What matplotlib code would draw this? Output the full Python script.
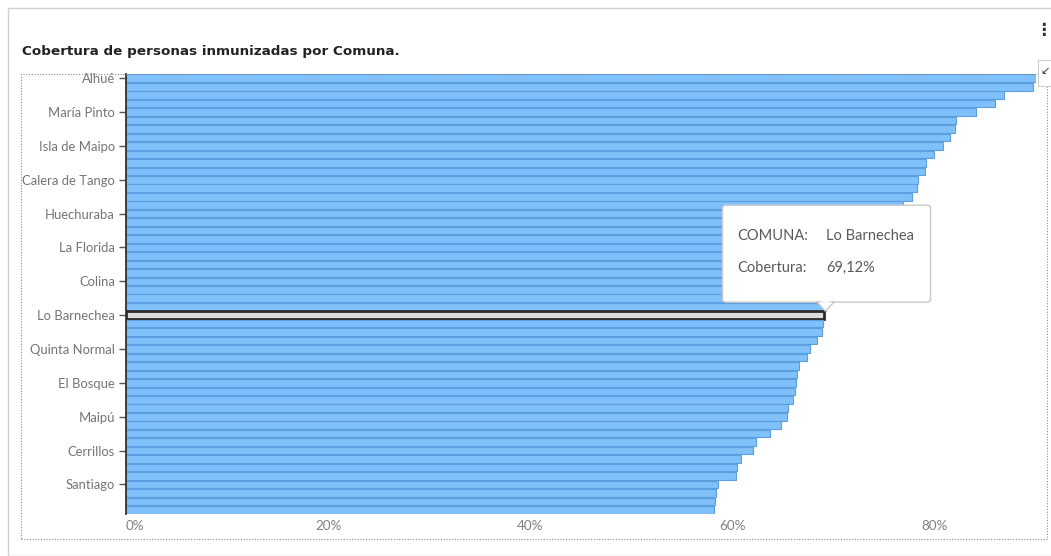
import matplotlib
matplotlib.use("Agg")
import matplotlib.pyplot as plt
import numpy as np
from matplotlib.patches import Rectangle, FancyBboxPatch, Polygon

# Comunas ordered by coverage (top = highest)
comunas = [
    "Alhué", "San Pedro", "Curacaví", "Tiltil",
    "María Pinto", "Pirque", "San José de Maipo", "Paine",
    "Isla de Maipo", "El Monte", "Melipilla", "Buin",
    "Calera de Tango", "Talagante", "Padre Hurtado", "Peñaflor",
    "Huechuraba", "Vitacura", "Lampa", "La Reina",
    "La Florida", "Las Condes", "Macul", "Providencia",
    "Colina", "Ñuñoa", "Puente Alto", "San Miguel",
    "Lo Barnechea", "Peñalolén", "San Joaquín", "Quilicura",
    "Quinta Normal", "La Cisterna", "San Bernardo", "Pudahuel",
    "El Bosque", "Lo Prado", "Conchalí", "Renca",
    "Maipú", "Recoleta", "San Ramón", "La Granja",
    "Cerrillos", "Cerro Navia", "Pedro Aguirre Cerda", "La Pintana",
    "Santiago", "Lo Espejo", "Estación Central", "Independencia",
]
cobertura = [
    91.8, 89.8, 86.9, 86.0,
    84.1, 82.1, 82.0, 81.5,
    80.8, 80.0, 79.2, 79.1,
    78.4, 78.3, 77.8, 76.9,
    76.4, 75.9, 75.3, 74.6,
    73.8, 73.1, 72.4, 71.6,
    70.8, 70.1, 69.6, 69.3,
    69.12, 69.0, 68.9, 68.4,
    67.7, 67.4, 66.6, 66.4,
    66.3, 66.2, 66.0, 65.5,
    65.4, 64.8, 63.7, 62.3,
    62.0, 60.9, 60.5, 60.4,
    58.6, 58.4, 58.3, 58.2,
]
selected = "Lo Barnechea"
x_ticks = [0, 20, 40, 60, 80]

W, H = 1051, 556
fig = plt.figure(figsize=(W / 100, H / 100), dpi=100)
ax = fig.add_axes([126 / W, 1 - 514 / H, (1036 - 126) / W, (514 - 74) / H])

ind = np.arange(len(comunas))
colors = ["#dcdcdc" if c == selected else "#80c0fb" for c in comunas]
edges = ["#2b2b2b" if c == selected else "#5a9fe0" for c in comunas]
lws = [2.0 if c == selected else 0.8 for c in comunas]
ax.barh(ind, cobertura, height=0.9, color=colors, edgecolor=edges, linewidth=lws, zorder=2)

ax.set_ylim(len(comunas) - 0.5, -0.5)
ax.set_xlim(0, 90.05)

ax.set_yticks(ind[::4])
ax.set_yticklabels(comunas[::4], family="Lato", fontsize=9.4, color="#747474")
ax.set_xticks(x_ticks)
ax.set_xticklabels([f"{t}%" for t in x_ticks], family="Lato", fontsize=9.7, color="#808080")
ax.get_xticklabels()[0].set_ha("left")
ax.tick_params(axis="y", length=5, width=1, color="#555555", pad=3)
ax.tick_params(axis="x", length=0, pad=4)
for s in ["top", "right", "bottom"]:
    ax.spines[s].set_visible(False)
ax.spines["left"].set_color("#333333")
ax.spines["left"].set_linewidth(1.3)

# Panel frame and title
fig.patches.append(Rectangle((8 / W, 0), 1, 1 - 8 / H, transform=fig.transFigure,
                             fill=False, edgecolor="#d0d0d0", linewidth=1))
fig.patches.append(Rectangle((21 / W, 1 - 539 / H), (1047 - 21) / W, (539 - 74) / H,
                             transform=fig.transFigure, fill=False, edgecolor="#7d8fa5",
                             linewidth=0.8, linestyle=(0, (1, 1.5))))
fig.text(22 / W, 1 - 52 / H, "Cobertura de personas inmunizadas por Comuna.",
         fontsize=9.7, fontweight="bold", color="#222222", va="center", ha="left")
fig.text(1043 / W, 1 - 30 / H, "⋮", fontsize=12, fontweight="bold", color="#333333",
         va="center", ha="center")
fig.patches.append(Rectangle((1038 / W, 1 - 86 / H), 14 / W, 26 / H, transform=fig.transFigure,
                             facecolor="white", edgecolor="#cccccc", linewidth=0.8))
fig.text(1045 / W, 1 - 71 / H, "↙", fontsize=8, color="#333333", va="center", ha="center")

# Tooltip anchored to the selected bar
fig.canvas.draw()
i_sel = comunas.index(selected)
px, py = ax.transData.transform((cobertura[i_sel], i_sel))
bx0, bx1 = px - 102, px + 106
by0, by1 = py + 13, py + 110
tip = Polygon([[px - 8, by0 + 0.5], [px + 1, py + 4], [px + 10, by0 + 0.5]], closed=True,
              transform=None, facecolor="white", edgecolor="#c8c8c8", linewidth=1, zorder=5)
box = FancyBboxPatch((bx0, by0), bx1 - bx0, by1 - by0, boxstyle="round,pad=0,rounding_size=3",
                     transform=None, facecolor="white", edgecolor="#c8c8c8", linewidth=1, zorder=4)
fig.patches.append(box)
fig.patches.append(tip)
fig.patches.append(Polygon([[px - 7, by0 + 1.5], [px + 9, by0 + 1.5], [px + 1, by0 - 0.5]],
                           closed=True, transform=None, facecolor="white", edgecolor="none",
                           zorder=6))
val_txt = f"{cobertura[i_sel]:.2f}%".replace(".", ",")
for label, value, dy in [("COMUNA:", selected, 66), ("Cobertura:", val_txt, 34)]:
    fig.text((bx0 + 15) / W, (by0 + dy) / H, label, family="Lato",
             fontsize=10.5, color="#5a5a5a", va="center", ha="left", zorder=7)
    fig.text((bx0 + 104) / W, (by0 + dy) / H, value, family="Lato",
             fontsize=10.5, color="#5a5a5a", va="center", ha="left", zorder=7)

fig.savefig("out.png", dpi=100)
